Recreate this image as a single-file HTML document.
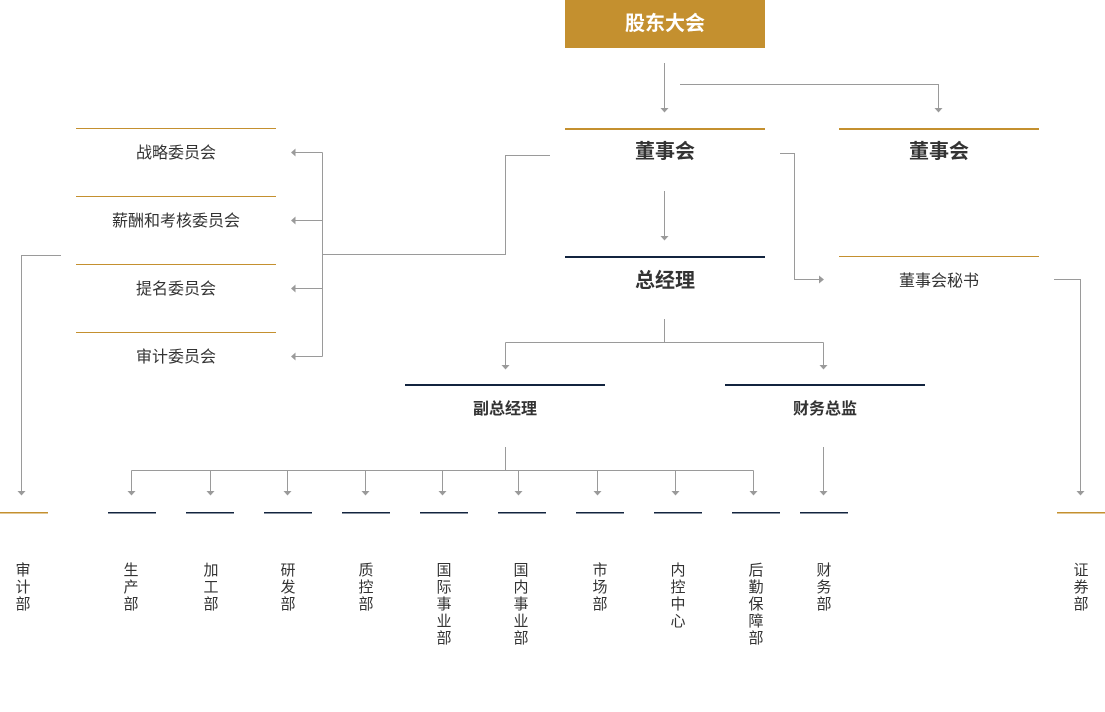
<!DOCTYPE html>
<html><head><meta charset="utf-8">
<style>
html,body{margin:0;padding:0;background:#fff;}
svg{display:block;}
text{font-family:"Liberation Sans","Noto Sans CJK SC",sans-serif;fill:#333;}
</style></head>
<body>
<svg width="1105" height="712" viewBox="0 0 1105 712" xmlns="http://www.w3.org/2000/svg">
<g fill="none" stroke="#9a9a9a" stroke-width="1">
  <path d="M664.5 63V108"/>
  <path d="M680 84.5H938.5V108"/>
  <path d="M664.5 191V236"/>
  <path d="M780 153.5H794.5V279.5H819"/>
  <path d="M550 155.5H505.5V254.5H322.5"/>
  <path d="M322.5 152.5V356.5"/>
  <path d="M322.5 152.5H295M322.5 220.5H295M322.5 288.5H295M322.5 356.5H295"/>
  <path d="M61 255.5H21.5V491"/>
  <path d="M664.5 319V342.5"/>
  <path d="M505.5 342.5H823.5M505.5 342.5V365M823.5 342.5V365"/>
  <path d="M505.5 447V470.5"/>
  <path d="M131.5 470.5H753.5"/>
  <path d="M131.5 470.5V491M210.5 470.5V491M287.5 470.5V491M365.5 470.5V491M442.5 470.5V491M518.5 470.5V491M597.5 470.5V491M675.5 470.5V491M753.5 470.5V491"/>
  <path d="M823.5 447V491"/>
  <path d="M1054 279.5H1080.5V491"/>
</g>
<g fill="#9a9a9a">
  <polygon points="660.5,108 668.5,108 664.5,112.5"/>
  <polygon points="934.5,108 942.5,108 938.5,112.5"/>
  <polygon points="660.5,236 668.5,236 664.5,240.5"/>
  <polygon points="819,275.5 819,283.5 824,279.5"/>
  <polygon points="295.5,148.5 295.5,156.5 291,152.5"/>
  <polygon points="295.5,216.5 295.5,224.5 291,220.5"/>
  <polygon points="295.5,284.5 295.5,292.5 291,288.5"/>
  <polygon points="295.5,352.5 295.5,360.5 291,356.5"/>
  <polygon points="501.5,365 509.5,365 505.5,369.5"/>
  <polygon points="819.5,365 827.5,365 823.5,369.5"/>
  <polygon points="17.5,491 25.5,491 21.5,495.5"/>
  <polygon points="127.5,491 135.5,491 131.5,495.5"/>
  <polygon points="206.5,491 214.5,491 210.5,495.5"/>
  <polygon points="283.5,491 291.5,491 287.5,495.5"/>
  <polygon points="361.5,491 369.5,491 365.5,495.5"/>
  <polygon points="438.5,491 446.5,491 442.5,495.5"/>
  <polygon points="514.5,491 522.5,491 518.5,495.5"/>
  <polygon points="593.5,491 601.5,491 597.5,495.5"/>
  <polygon points="671.5,491 679.5,491 675.5,495.5"/>
  <polygon points="749.5,491 757.5,491 753.5,495.5"/>
  <polygon points="819.5,491 827.5,491 823.5,495.5"/>
  <polygon points="1076.5,491 1084.5,491 1080.5,495.5"/>
</g>
<!-- top box -->
<rect x="565" y="0" width="200" height="48" fill="#c4902f"/>
<text x="665" y="30" text-anchor="middle" font-size="20" font-weight="bold" style="fill:#fff">股东大会</text>
<!-- gold / navy bars -->
<rect x="565" y="128" width="200" height="2" fill="#c4902f"/>
<rect x="839" y="128" width="200" height="2" fill="#c4902f"/>
<rect x="565" y="256" width="200" height="2" fill="#13243f"/>
<rect x="839" y="256" width="200" height="1" fill="#c4902f"/>
<rect x="405" y="384" width="200" height="2" fill="#13243f"/>
<rect x="725" y="384" width="200" height="2" fill="#13243f"/>
<rect x="76" y="128" width="200" height="1" fill="#c4902f"/>
<rect x="76" y="196" width="200" height="1" fill="#c4902f"/>
<rect x="76" y="264" width="200" height="1" fill="#c4902f"/>
<rect x="76" y="332" width="200" height="1" fill="#c4902f"/>
<!-- dept bars -->
<rect x="0" y="512" width="48" height="1.5" fill="#c4902f"/>
<rect x="1057" y="512" width="48" height="1.5" fill="#c4902f"/>
<g fill="#13243f">
  <rect x="108" y="512" width="48" height="1.5"/>
  <rect x="186" y="512" width="48" height="1.5"/>
  <rect x="264" y="512" width="48" height="1.5"/>
  <rect x="342" y="512" width="48" height="1.5"/>
  <rect x="420" y="512" width="48" height="1.5"/>
  <rect x="498" y="512" width="48" height="1.5"/>
  <rect x="576" y="512" width="48" height="1.5"/>
  <rect x="654" y="512" width="48" height="1.5"/>
  <rect x="732" y="512" width="48" height="1.5"/>
  <rect x="800" y="512" width="48" height="1.5"/>
</g>
<!-- main labels -->
<g text-anchor="middle">
  <text x="665" y="158" font-size="20" font-weight="bold">董事会</text>
  <text x="939" y="158" font-size="20" font-weight="bold">董事会</text>
  <text x="665" y="287" font-size="20" font-weight="bold">总经理</text>
  <text x="939" y="286" font-size="16">董事会秘书</text>
  <text x="505" y="414" font-size="16" font-weight="bold">副总经理</text>
  <text x="825" y="414" font-size="16" font-weight="bold">财务总监</text>
  <text x="176" y="158" font-size="16">战略委员会</text>
  <text x="176" y="226" font-size="16">薪酬和考核委员会</text>
  <text x="176" y="294" font-size="16">提名委员会</text>
  <text x="176" y="362" font-size="16">审计委员会</text>
</g>
<!-- vertical dept labels -->
<g text-anchor="middle" font-size="15">
  <text x="23" y="575">审</text><text x="23" y="592">计</text><text x="23" y="609">部</text>
  <text x="131" y="575">生</text><text x="131" y="592">产</text><text x="131" y="609">部</text>
  <text x="211" y="575">加</text><text x="211" y="592">工</text><text x="211" y="609">部</text>
  <text x="288" y="575">研</text><text x="288" y="592">发</text><text x="288" y="609">部</text>
  <text x="366" y="575">质</text><text x="366" y="592">控</text><text x="366" y="609">部</text>
  <text x="444" y="575">国</text><text x="444" y="592">际</text><text x="444" y="609">事</text><text x="444" y="626">业</text><text x="444" y="643">部</text>
  <text x="521" y="575">国</text><text x="521" y="592">内</text><text x="521" y="609">事</text><text x="521" y="626">业</text><text x="521" y="643">部</text>
  <text x="600" y="575">市</text><text x="600" y="592">场</text><text x="600" y="609">部</text>
  <text x="678" y="575">内</text><text x="678" y="592">控</text><text x="678" y="609">中</text><text x="678" y="626">心</text>
  <text x="756" y="575">后</text><text x="756" y="592">勤</text><text x="756" y="609">保</text><text x="756" y="626">障</text><text x="756" y="643">部</text>
  <text x="824" y="575">财</text><text x="824" y="592">务</text><text x="824" y="609">部</text>
  <text x="1081" y="575">证</text><text x="1081" y="592">券</text><text x="1081" y="609">部</text>
</g>
</svg>
</body></html>
